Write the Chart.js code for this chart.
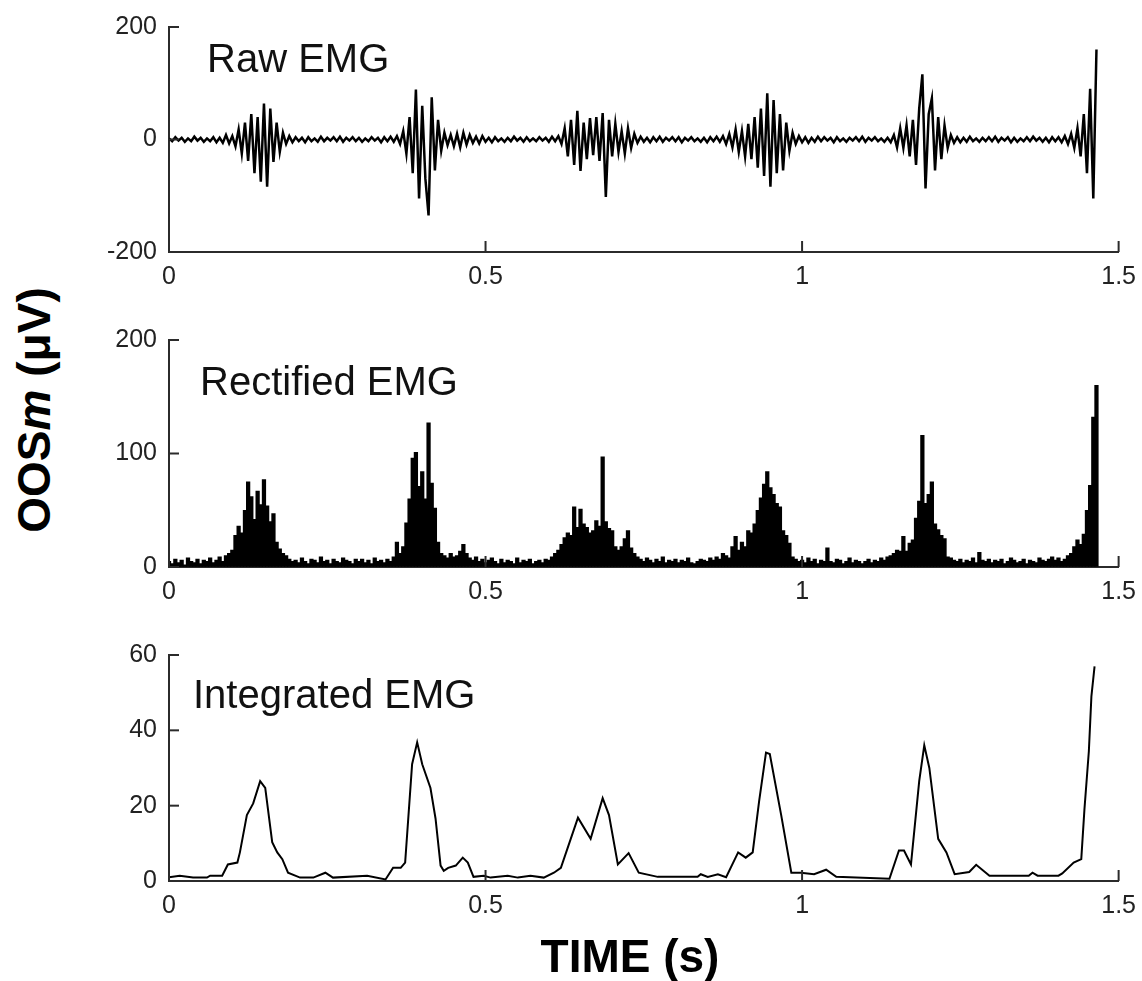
<!DOCTYPE html>
<html>
<head>
<meta charset="utf-8">
<script src="https://cdn.jsdelivr.net/npm/chart.js@4.4.1/dist/chart.umd.min.js"></script>
<style>
  body { margin: 0; background: #fff; width: 1142px; height: 981px; position: relative; overflow: hidden; font-family: "Liberation Sans", Arial, sans-serif; }
  canvas { position: absolute; left: 60px; }
  .panelTitle { position: absolute; font-size: 40px; line-height: 40px; color: #111; white-space: nowrap; }
  .axisTitle { position: absolute; width: 300px; height: 46px; font-size: 46px; line-height: 46px; font-weight: bold; text-align: center; color: #000; white-space: nowrap; }
</style>
</head>
<body>
<canvas id="rawChart" width="1086" height="305" style="top:-3px"></canvas>
<canvas id="rectChart" width="1086" height="307" style="top:310px"></canvas>
<canvas id="intChart" width="1086" height="306" style="top:625px"></canvas>

<div class="panelTitle" style="left:207px; top:38px">Raw EMG</div>
<div class="panelTitle" style="left:200px; top:361px">Rectified EMG</div>
<div class="panelTitle" style="left:193px; top:674px">Integrated EMG</div>

<div class="axisTitle" style="left:-116px; top:387px; transform: rotate(-90deg)">OOS<i>m</i> (μV)</div>
<div class="axisTitle" style="left:480px; top:933px">TIME (s)</div>

<script>
// sampling step of the raw / rectified traces (s)
const SAMPLE_STEP = 0.005;

const timeTicks = [0, 0.5, 1, 1.5];
const rawTicks = [-200, 0, 200];
const rectTicks = [0, 100, 200];
const intTicks = [0, 20, 40, 60];

// Raw EMG (µV), one row = 0.1 s
const rawEmg = [
  2,-3,4,-2,3,-4,2,-3,5,-2,3,-4,2,-3,4,-5,3,-6,8,-7,
  6,-12,18,-25,30,-38,45,-60,40,-75,64,-84,55,-40,30,-22,12,-8,6,-5,
  4,-3,3,-5,4,-3,2,-4,5,-3,3,-2,4,-3,5,-4,3,-2,4,-3,
  3,-4,2,-3,4,-2,3,-5,4,-3,5,-4,6,-8,15,-25,40,-60,89,-105,
  60,-70,-135,75,-55,35,-20,12,-10,8,-12,10,-14,12,-9,8,-6,5,-7,6,
  -4,3,-5,4,-3,2,-4,3,-3,5,-2,3,-4,4,-3,2,-3,4,-2,3,
  -4,5,-3,6,-8,20,-30,35,-45,51,-56,30,-35,38,-28,40,-38,47,-102,35,
  -30,28,-22,15,-25,20,-15,10,-6,5,-4,3,-5,4,-3,5,-4,3,-2,4,
  -3,4,-5,3,-2,4,-3,2,-4,3,-5,4,-3,5,-4,6,-8,10,-14,18,
  -22,15,-30,28,-35,40,-50,55,-65,82,-84,70,-60,45,-55,30,-20,12,-8,6,
  -5,4,-6,3,-4,5,-3,4,-2,3,-5,4,-3,2,-4,3,-2,4,-3,5,
  -4,3,-2,4,-3,2,-4,3,-5,8,-14,20,-15,25,-30,35,-45,55,116,-87,
  45,73,-55,40,-35,25,-15,8,-6,4,-5,3,-4,5,-3,2,-4,3,-3,4,
  -3,5,-4,3,-2,4,-5,3,-4,2,-3,4,-3,5,-2,3,-4,3,-5,4,
  -3,4,-5,6,-8,10,-15,20,-30,45,-60,90,-105,160
];

// Rectified EMG (µV)
const rectifiedEmg = [
  5,3,7,4,6,2,8,5,4,7,3,6,5,8,4,6,9,5,10,12,
  15,28,36,30,50,75,62,42,67,55,77,54,40,47,22,16,12,10,7,5,
  6,4,8,5,3,7,6,4,9,5,6,3,7,5,4,8,6,5,3,7,
  5,7,4,6,3,8,5,6,4,7,5,9,22,12,18,39,60,96,101,71,
  84,60,127,74,52,22,12,10,8,12,9,10,14,20,12,8,6,9,5,7,
  4,6,8,5,3,7,4,6,5,3,8,4,6,5,7,3,5,6,4,7,
  6,9,12,15,20,26,30,28,53,35,51,38,35,30,32,41,36,97,40,34,
  32,18,15,18,25,32,17,12,9,7,5,8,6,4,7,5,9,4,6,5,
  7,4,6,5,8,4,3,5,7,6,5,8,6,9,7,12,10,8,18,27,
  15,22,18,32,30,38,50,61,73,84,70,64,56,53,32,28,21,9,7,5,
  6,4,8,5,7,3,6,5,17,5,4,7,6,3,5,8,4,6,5,3,
  5,7,4,6,5,8,6,9,10,12,15,14,27,14,21,24,43,58,116,56,
  64,75,38,33,28,25,9,8,6,5,7,4,6,5,8,4,13,6,5,7,
  4,6,5,7,3,5,8,6,4,5,7,3,6,5,4,8,6,5,7,9,
  6,8,5,7,10,12,18,24,20,29,50,72,132,160
];

// Integrated EMG, read point by point
const integratedTimes = [0, 0.017, 0.038, 0.060, 0.065, 0.084, 0.093, 0.108, 0.112, 0.123, 0.133, 0.144, 0.152, 0.163, 0.171, 0.179, 0.188, 0.207, 0.228, 0.247, 0.259, 0.313, 0.342, 0.354, 0.366, 0.373, 0.384, 0.392, 0.400, 0.413, 0.421, 0.429, 0.434, 0.441, 0.453, 0.464, 0.472, 0.481, 0.497, 0.508, 0.535, 0.551, 0.571, 0.592, 0.608, 0.619, 0.646, 0.666, 0.685, 0.695, 0.709, 0.726, 0.742, 0.772, 0.835, 0.840, 0.851, 0.867, 0.880, 0.899, 0.911, 0.922, 0.932, 0.943, 0.949, 0.967, 0.983, 0.998, 1.019, 1.038, 1.054, 1.138, 1.153, 1.161, 1.172, 1.185, 1.193, 1.201, 1.215, 1.228, 1.241, 1.264, 1.275, 1.296, 1.358, 1.364, 1.372, 1.405, 1.411, 1.429, 1.441, 1.446, 1.453, 1.457, 1.462];
const integratedEmg = [1.0, 1.4, 0.9, 0.9, 1.4, 1.4, 4.4, 4.9, 7.6, 17.5, 20.6, 26.5, 24.7, 10.3, 7.6, 5.8, 2.2, 0.9, 0.9, 2.2, 0.9, 1.4, 0.4, 3.5, 3.5, 4.9, 31, 36.8, 31, 24.7, 16.6, 4.1, 2.7, 3.5, 4.1, 6.2, 4.9, 1.1, 1.4, 0.9, 1.4, 0.9, 1.4, 0.9, 2.2, 3.5, 16.8, 11.2, 22, 17.5, 4.4, 7.4, 2.2, 1.1, 1.1, 1.8, 1.1, 1.8, 1.0, 7.6, 6.2, 7.6, 21, 34.1, 33.7, 17.5, 2.2, 2.2, 1.8, 3, 1.1, 0.6, 8.1, 8.1, 4.4, 26.5, 36, 30, 11.2, 7.6, 1.8, 2.4, 4.3, 1.4, 1.4, 2.2, 1.4, 1.4, 2.0, 4.9, 5.8, 19, 34.5, 49, 57];

const AXIS_COLOR = '#2b2b2b';
const TICK_FONT = { family: 'Liberation Sans', size: 25 };

function toPoints(values, times) {
  return values.map((v, i) => ({ x: times ? times[i] : i * SAMPLE_STEP, y: v }));
}

// matlab style ticks pointing into the plot
const inwardTicks = {
  id: 'inwardTicks',
  afterDatasetsDraw(chart) {
    const { ctx, chartArea, scales } = chart;
    ctx.save();
    ctx.strokeStyle = AXIS_COLOR;
    ctx.lineWidth = 2;
    scales.x.ticks.forEach(t => {
      const px = scales.x.getPixelForValue(t.value);
      ctx.beginPath();
      ctx.moveTo(px, chartArea.bottom);
      ctx.lineTo(px, chartArea.bottom - 11);
      ctx.stroke();
    });
    scales.y.ticks.forEach(t => {
      const py = scales.y.getPixelForValue(t.value);
      ctx.beginPath();
      ctx.moveTo(chartArea.left, py);
      ctx.lineTo(chartArea.left + 10, py);
      ctx.stroke();
    });
    ctx.restore();
  }
};

function makeOptions(yMin, yMax, yTicks) {
  return {
    responsive: false,
    animation: false,
    devicePixelRatio: 1,
    layout: { padding: { top: 30, right: 22, left: 0, bottom: 0 } },
    plugins: { legend: { display: false }, tooltip: { enabled: false } },
    scales: {
      x: {
        type: 'linear', min: 0, max: 1.5, offset: false,
        afterBuildTicks: s => { s.ticks = timeTicks.map(v => ({ value: v })); },
        afterFit: s => { s.height = 50; },
        border: { color: AXIS_COLOR, width: 2 },
        grid: { drawOnChartArea: false, drawTicks: false },
        ticks: { font: TICK_FONT, color: '#222', padding: 10, maxRotation: 0, callback: v => String(v) }
      },
      y: {
        min: yMin, max: yMax,
        afterBuildTicks: s => { s.ticks = yTicks.map(v => ({ value: v })); },
        afterFit: s => { s.width = 109; },
        border: { color: AXIS_COLOR, width: 2 },
        grid: { drawOnChartArea: false, drawTicks: false },
        ticks: { font: TICK_FONT, color: '#222', padding: 12 }
      }
    }
  };
}

new Chart(document.getElementById('rawChart'), {
  type: 'line',
  data: { datasets: [{ data: toPoints(rawEmg), borderColor: '#000', borderWidth: 2.5, pointRadius: 0, tension: 0 }] },
  options: makeOptions(-200, 200, rawTicks),
  plugins: [inwardTicks]
});

new Chart(document.getElementById('rectChart'), {
  type: 'bar',
  data: { datasets: [{ data: toPoints(rectifiedEmg), backgroundColor: '#000', borderWidth: 0, barThickness: 3.6 }] },
  options: makeOptions(0, 200, rectTicks),
  plugins: [inwardTicks]
});

new Chart(document.getElementById('intChart'), {
  type: 'line',
  data: { datasets: [{ data: toPoints(integratedEmg, integratedTimes), borderColor: '#000', borderWidth: 2, pointRadius: 0, tension: 0 }] },
  options: makeOptions(0, 60, intTicks),
  plugins: [inwardTicks]
});
</script>
</body>
</html>
